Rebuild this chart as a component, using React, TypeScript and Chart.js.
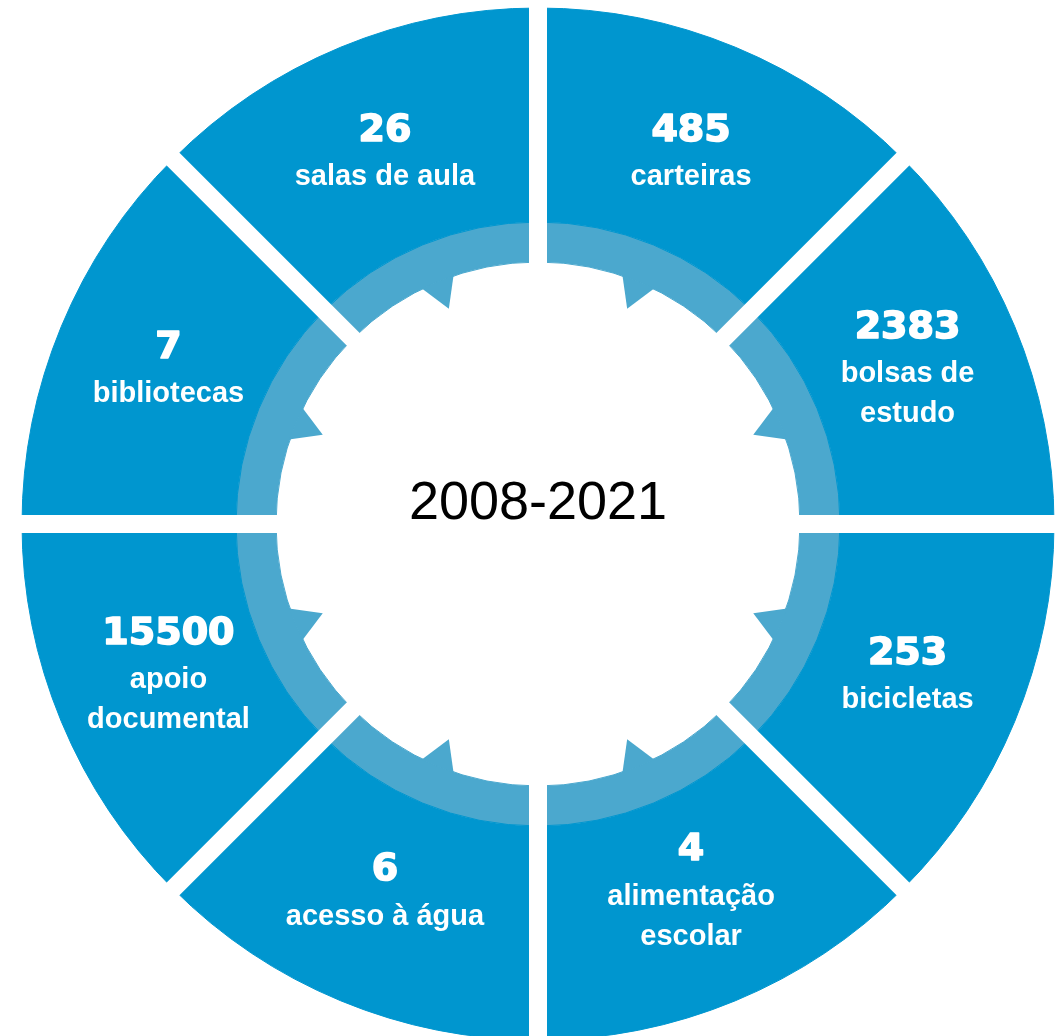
import React, { useEffect, useRef } from "react";
import { Chart, registerables } from "chart.js";

Chart.register(...registerables);

// Segments clockwise from the top
const categories: string[][] = [
  ["carteiras"],
  ["bolsas de", "estudo"],
  ["bicicletas"],
  ["alimentação", "escolar"],
  ["acesso à água"],
  ["apoio", "documental"],
  ["bibliotecas"],
  ["salas de aula"],
];
const counts = [485, 2383, 253, 4, 6, 15500, 7, 26];
const segmentShare = [1, 1, 1, 1, 1, 1, 1, 1];
const periodLabel = "2008-2021";

const DARK = "#0096cf";
const LIGHT = "#4ba8ce";

const overlayPlugin = {
  id: "overlay",
  afterDatasetsDraw(chart: any) {
    const ctx: CanvasRenderingContext2D = chart.ctx;
    const outerArcs = chart.getDatasetMeta(0).data;
    const innerArcs = chart.getDatasetMeta(1).data;
    if (!outerArcs.length) return;
    const cx = outerArcs[0].x;
    const cy = outerArcs[0].y;
    const R = outerArcs[0].outerRadius;
    const rIn = innerArcs[0].innerRadius;
    ctx.save();

    // inward teeth of the light ring
    ctx.fillStyle = LIGHT;
    innerArcs.forEach((a: any) => {
      const mid = (a.startAngle + a.endAngle) / 2;
      const w = 0.066;
      const depth = 29;
      ctx.beginPath();
      ctx.moveTo(cx + Math.cos(mid - w) * (rIn + 1), cy + Math.sin(mid - w) * (rIn + 1));
      ctx.lineTo(cx + Math.cos(mid) * (rIn - depth), cy + Math.sin(mid) * (rIn - depth));
      ctx.lineTo(cx + Math.cos(mid + w) * (rIn + 1), cy + Math.sin(mid + w) * (rIn + 1));
      ctx.closePath();
      ctx.fill();
    });

    // white gaps between segments
    ctx.strokeStyle = "#ffffff";
    ctx.lineWidth = 18;
    ctx.lineCap = "butt";
    outerArcs.forEach((a: any) => {
      const ang = a.startAngle;
      ctx.beginPath();
      ctx.moveTo(cx + Math.cos(ang) * (rIn - 10), cy + Math.sin(ang) * (rIn - 10));
      ctx.lineTo(cx + Math.cos(ang) * (R + 10), cy + Math.sin(ang) * (R + 10));
      ctx.stroke();
    });

    // segment texts
    ctx.fillStyle = "#ffffff";
    ctx.strokeStyle = "#ffffff";
    ctx.lineJoin = "round";
    ctx.textAlign = "center";
    ctx.textBaseline = "middle";
    outerArcs.forEach((a: any, i: number) => {
      const mid = (a.startAngle + a.endAngle) / 2;
      const r = 400;
      const px = cx + Math.cos(mid) * r;
      const py = cy + Math.sin(mid) * r;
      const lines = [String(counts[i]), ...categories[i]];
      const offs = lines.map((_, k) => (k === 0 ? 0 : 46 + (k - 1) * 40));
      const top = py - offs[offs.length - 1] / 2;
      lines.forEach((t, k) => {
        if (k === 0) {
          ctx.font = 'bold 38px "DejaVu Sans"';
          ctx.lineWidth = 1.6;
          ctx.strokeText(t, px, top + offs[k]);
        } else {
          ctx.font = 'bold 29px "Liberation Sans"';
        }
        ctx.fillText(t, px, top + offs[k]);
      });
    });

    // center label
    ctx.fillStyle = "#000000";
    ctx.font = '54px "Liberation Sans"';
    ctx.fillText(periodLabel, cx, cy - 20);

    ctx.restore();
  },
};

export default function App() {
  const ref = useRef<HTMLCanvasElement>(null);
  useEffect(() => {
    const chart = new Chart(ref.current!, {
      type: "doughnut",
      data: {
        labels: categories.map((c) => c.join(" ")),
        datasets: [
          {
            data: segmentShare,
            backgroundColor: DARK,
            borderColor: DARK,
            borderWidth: 1,
            weight: 214,
          } as any,
          {
            data: segmentShare,
            backgroundColor: LIGHT,
            borderColor: LIGHT,
            borderWidth: 1,
            weight: 40,
          } as any,
        ],
      },
      options: {
        animation: false,
        responsive: true,
        maintainAspectRatio: false,
        radius: 516,
        cutout: `${(262 / 516) * 100}%`,
        layout: { padding: { left: 15, right: 0, top: 12, bottom: 0 } },
        plugins: {
          legend: { display: false },
          tooltip: { enabled: false },
        },
      } as any,
      plugins: [overlayPlugin],
    });
    return () => chart.destroy();
  }, []);
  return (
    <div
      style={{
        position: "absolute",
        left: 0,
        top: 0,
        width: 1061,
        height: 1036,
        overflow: "hidden",
        background: "#ffffff",
      }}
    >
      <canvas ref={ref} />
    </div>
  );
}
